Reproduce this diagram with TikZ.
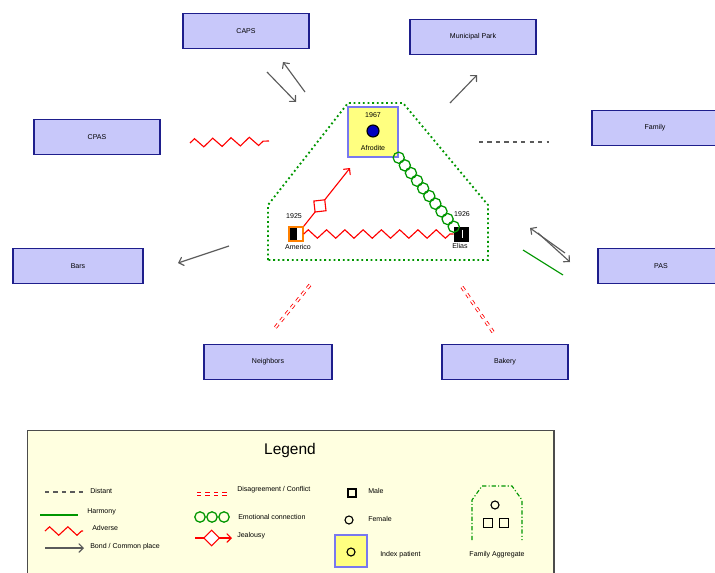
\documentclass[tikz,border=0pt]{standalone}
\usepackage{fontspec}
\setmainfont{Liberation Sans}
\usetikzlibrary{arrows,calc,shapes.geometric,decorations.pathmorphing}
\definecolor{boxfill}{RGB}{200,200,250}
\definecolor{boxline}{RGB}{30,30,140}
\definecolor{idxfill}{RGB}{255,255,128}
\definecolor{idxline}{RGB}{120,120,240}
\definecolor{legfill}{RGB}{255,255,224}
\definecolor{famgreen}{RGB}{0,150,0}
\definecolor{bondgray}{RGB}{90,90,90}
\tikzset{
	sysbox/.style={draw=boxline, fill=boxfill, line width=1.2pt, minimum width=3.15cm, minimum height=0.87cm, font=\fontsize{5}{6}\selectfont},
	lbl/.style={font=\fontsize{5}{6}\selectfont, inner sep=0pt},
	bond/.style={draw=bondgray, thick, -angle 90},
	adverse/.style={red, thick, decorate, decoration={zigzag, segment length=13pt, amplitude=3pt}},
	conflict/.style={red, dashed, double=white, double distance=1.2pt, line width=0.6pt},
	distant/.style={bondgray, thick, dash pattern=on 3pt off 3pt},
	harmony/.style={famgreen, thick},
	jealousy/.style={red, thick, -angle 90},
	jdiamond/.style={diamond, draw=red, thick, fill=white, inner sep=0pt, minimum size=0.4cm, sloped}
}
\begin{document}
\begin{tikzpicture}[x=0.025cm, y=-0.025cm]
	\path [use as bounding box] (0,0) rectangle (715,572);
	% systems
	\node[sysbox] (caps) at (246,31) {CAPS};
	\node[sysbox] (park) at (473,37) {Municipal Park};
	\node[sysbox] (cpas) at (97,137) {CPAS};
	\node[sysbox] (family) at (655,128) {Family};
	\node[sysbox, minimum width=3.25cm] (bars) at (78,266) {Bars};
	\node[sysbox] (pas) at (661,266) {PAS};
	\node[sysbox, minimum width=3.2cm] (neigh) at (268,362) {Neighbors};
	\node[sysbox] (bakery) at (505,362) {Bakery};
	% family aggregate
	\draw[famgreen, dotted, line width=1.3pt] (268,260) -- (268,205) -- (348,103) -- (403,103) -- (488,205) -- (488,260) -- cycle;
	% persons
	\node[draw=idxline, fill=idxfill, line width=1pt, minimum size=1.25cm] (afro) at (373,132) {};
	\node[lbl] (afroyr) at (373,115) {1967};
	\node[circle, draw, thick, fill=blue!75!black, minimum size=0.3cm, inner sep=0pt] (afrosym) at (373,131) {};
	\node[lbl] (afroname) at (373,148) {Afrodite};
	\node[draw=orange, line width=1pt, minimum size=0.35cm, inner sep=0pt] (americo) at (296,234) {};
	\fill ($(americo.south west)+(1pt,1pt)$) rectangle ($(americo.north)+(0.5pt,-1pt)$);
	\node[lbl] (americoyr) at (294,216) {1925};
	\node[lbl] (americoname) at (298,247) {Americo};
	\node[draw, fill=black, minimum size=0.35cm, inner sep=0pt] (elias) at (461,234) {};
	\draw[white, line width=1pt] ($(elias.north)+(1pt,-2pt)$) -- ($(elias.south)+(1pt,2pt)$);
	\node[lbl] (eliasyr) at (462,214) {1926};
	\node[lbl] (eliasname) at (460,246) {Elias};
	% relations inside
	\draw[adverse] (americo) -- (elias);
	\coordinate (jeal) at (350,168);
	\draw[jealousy] (americo.north east) -- (jeal) node[jdiamond, pos=0.35] (jd) {};
	\foreach \i in {0,...,9}
		\draw[famgreen, line width=0.9pt] ($(afro.south east)!\i/9!(elias.north west)$) circle (0.14cm);
	% relations outside
	\coordinate (capsA) at (267,72);
	\coordinate (capsB) at (296,102);
	\coordinate (capsC) at (305,92);
	\coordinate (capsD) at (283,62);
	\draw[bond] (capsA) -- (capsB);
	\draw[bond] (capsC) -- (capsD);
	\coordinate (parkA) at (450,103);
	\coordinate (parkB) at (477,75);
	\draw[bond] (parkA) -- (parkB);
	\coordinate (cpasA) at (190,143);
	\coordinate (cpasB) at (269,141);
	\draw[adverse] (cpasA) -- (cpasB);
	\coordinate (famA) at (479,142);
	\coordinate (famB) at (549,142);
	\draw[distant] (famA) -- (famB);
	\coordinate (barsA) at (229,246);
	\coordinate (barsB) at (178,263);
	\draw[bond] (barsA) -- (barsB);
	\coordinate (pasA) at (565,253);
	\coordinate (pasB) at (530,228);
	\coordinate (pasC) at (538,233);
	\coordinate (pasD) at (570,262);
	\coordinate (pasE) at (523,250);
	\coordinate (pasF) at (563,275);
	\draw[bond] (pasA) -- (pasB);
	\draw[bond] (pasC) -- (pasD);
	\draw[harmony] (pasE) -- (pasF);
	\coordinate (neighA) at (310,285);
	\coordinate (neighB) at (275,328);
	\draw[conflict] (neighA) -- (neighB);
	\coordinate (bakA) at (462,287);
	\coordinate (bakB) at (493,332);
	\draw[conflict] (bakA) -- (bakB);
	% legend
	\node[draw=black!70, fill=legfill, line width=1pt, anchor=north west, minimum width=13.15cm, minimum height=3.8cm] (legend) at (27,430) {};
	\node[font=\fontsize{11}{13}\selectfont] (legtitle) at (290,450) {Legend};
	\draw[distant] (45,492) -- (85,492);
	\node[lbl, anchor=west] (ldistant) at (90,491) {Distant};
	\draw[harmony] (40,515) -- (78,515);
	\node[lbl, anchor=west] (lharmony) at (87,512) {Harmony};
	\draw[adverse] (45,531) -- (83,531);
	\node[lbl, anchor=west] (ladverse) at (92,528) {Adverse};
	\draw[bond] (45,548) -- (84,548);
	\node[lbl, anchor=west] (lbond) at (90,547) {Bond / Common place};
	\draw[conflict] (197,494) -- (227,494);
	\node[lbl, anchor=west] (lconflict) at (237,490) {Disagreement / Conflict};
	\foreach \x in {200,212,224}
		\draw[famgreen, line width=0.9pt] (\x,517) circle (0.13cm);
	\node[lbl, anchor=west] (lemotion) at (238,517) {Emotional connection};
	\draw[jealousy] (195,538) -- (232,538) node[jdiamond, pos=0.45] (ljd) {};
	\node[lbl, anchor=west] (ljealousy) at (237,536) {Jealousy};
	\node[draw, thick, minimum size=0.2cm, inner sep=0pt] (lmale) at (352,493) {};
	\node[lbl, anchor=west] (lmaletxt) at (368,491) {Male};
	\node[draw, thick, circle, minimum size=0.2cm, inner sep=0pt] (lfemale) at (349,520) {};
	\node[lbl, anchor=west] (lfemaletxt) at (368,519) {Female};
	\node[draw=idxline, fill=idxfill, line width=1pt, minimum size=0.8cm] (lindex) at (351,551) {};
	\node[draw, thick, circle, minimum size=0.2cm, inner sep=0pt] (lindexsym) at (351,552) {};
	\node[lbl, anchor=west] (lindextxt) at (380,555) {Index patient};
	\draw[famgreen, thick, dash pattern=on 3pt off 1.5pt on 0.8pt off 1.5pt] (472,540) -- (472,500) -- (482,486) -- (512,486) -- (522,500) -- (522,540);
	\node[draw, thick, circle, minimum size=0.2cm, inner sep=0pt] (laggf) at (495,505) {};
	\node[draw, thick, minimum size=0.22cm, inner sep=0pt] (laggm1) at (488,523) {};
	\node[draw, thick, minimum size=0.22cm, inner sep=0pt] (laggm2) at (504,523) {};
	\node[lbl] (laggtxt) at (497,555) {Family Aggregate};
\end{tikzpicture}
\end{document}
